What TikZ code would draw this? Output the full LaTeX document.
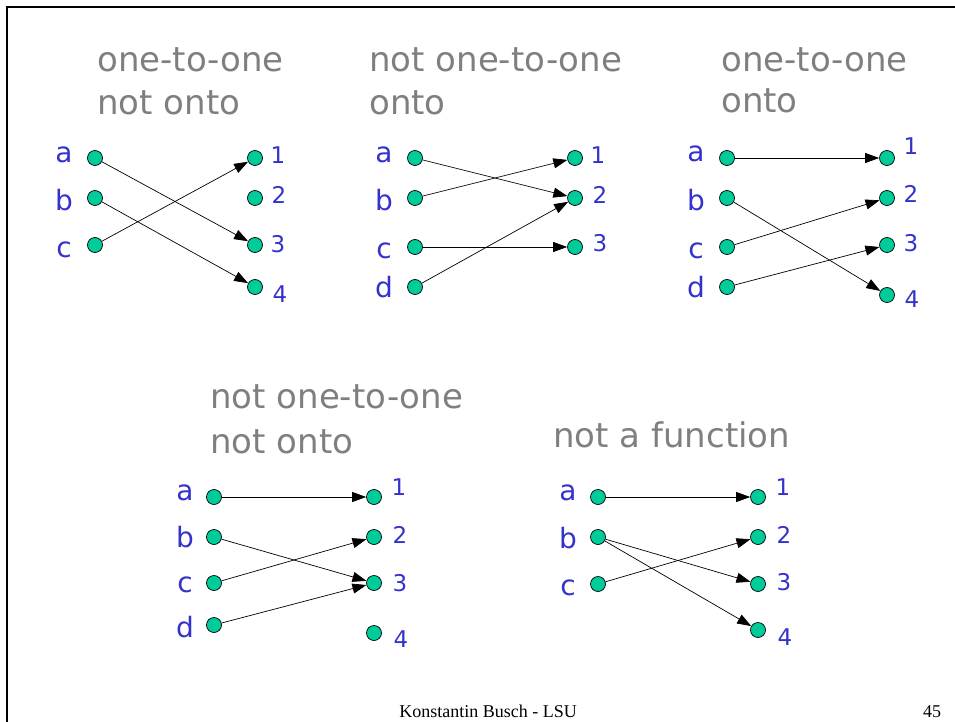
\documentclass[tikz,border=0pt]{standalone}
\usepackage{fontspec}
\setmainfont{Liberation Serif}
\newfontfamily\comic{DejaVu Sans}
\usetikzlibrary{arrows.meta}
\definecolor{dotgreen}{HTML}{00CC99}
\definecolor{lblblue}{HTML}{3333CC}
\definecolor{titlegrey}{HTML}{7F7F7F}
\tikzset{
  dot/.style={circle,draw=black,line width=0.7pt,fill=dotgreen,minimum size=15pt,inner sep=0pt},
  lbl/.style={anchor=base,text=lblblue,font=\comic\fontsize{23}{26}\selectfont,inner sep=0pt},
  let/.style={anchor=base,text=lblblue,font=\comic\fontsize{28}{30}\selectfont,inner sep=0pt},
  ttl/.style={anchor=base west,text=titlegrey,font=\comic\fontsize{34}{40}\selectfont,inner sep=0pt},
  foot/.style={anchor=base,font=\fontsize{18}{22}\selectfont,inner sep=0pt},
  arr/.style={-{Triangle[length=14pt,width=10pt]},line width=0.7pt,black}
}
\begin{document}
\begin{tikzpicture}[x=1pt,y=-1pt]
\useasboundingbox (0,0) rectangle (955,722);
\draw[line width=2pt] (7,722) -- (7,7) -- (955,7);
% panel 1
\node[ttl] (t1a) at (97,72) {one-to-one};
\node[ttl] (t1b) at (97,115) {not onto};
\node[dot] (p1a) at (95,158) {};
\node[dot] (p1b) at (95,198) {};
\node[dot] (p1c) at (95,245) {};
\node[dot] (p1r1) at (255,158) {};
\node[dot] (p1r2) at (255,198) {};
\node[dot] (p1r3) at (255,245) {};
\node[dot] (p1r4) at (255,287) {};
\node[let] (l1a) at (64,163) {a};
\node[let] (l1b) at (64,210) {b};
\node[let] (l1c) at (64,257) {c};
\node[lbl] (l1r1) at (278,164) {1};
\node[lbl] (l1r2) at (279,204) {2};
\node[lbl] (l1r3) at (278,252) {3};
\node[lbl] (l1r4) at (280,302) {4};
\draw[arr] (p1a) -- (p1r3);
\draw[arr] (p1b) -- (p1r4);
\draw[arr] (p1c) -- (p1r1);
% panel 2
\node[ttl] (t2a) at (369,72) {not one-to-one};
\node[ttl] (t2b) at (369,115) {onto};
\node[dot] (p2a) at (415,158) {};
\node[dot] (p2b) at (415,198) {};
\node[dot] (p2c) at (415,247) {};
\node[dot] (p2d) at (415,287) {};
\node[dot] (p2r1) at (575,158) {};
\node[dot] (p2r2) at (575,198) {};
\node[dot] (p2r3) at (575,247) {};
\node[let] (l2a) at (384,163) {a};
\node[let] (l2b) at (384,210) {b};
\node[let] (l2c) at (384,258) {c};
\node[let] (l2d) at (384,297) {d};
\node[lbl] (l2r1) at (598,164) {1};
\node[lbl] (l2r2) at (600,204) {2};
\node[lbl] (l2r3) at (600,251) {3};
\draw[arr] (p2a) -- (p2r2);
\draw[arr] (p2b) -- (p2r1);
\draw[arr] (p2c) -- (p2r3);
\draw[arr] (p2d) -- (p2r2);
% panel 3
\node[ttl] (t3a) at (721,72) {one-to-one};
\node[ttl] (t3b) at (721,113) {onto};
\node[dot] (p3a) at (727,158) {};
\node[dot] (p3b) at (727,198) {};
\node[dot] (p3c) at (727,247) {};
\node[dot] (p3d) at (727,287) {};
\node[dot] (p3r1) at (887,158) {};
\node[dot] (p3r2) at (887,198) {};
\node[dot] (p3r3) at (887,245) {};
\node[dot] (p3r4) at (887,295) {};
\node[let] (l3a) at (696,162) {a};
\node[let] (l3b) at (696,210) {b};
\node[let] (l3c) at (696,258) {c};
\node[let] (l3d) at (696,297) {d};
\node[lbl] (l3r1) at (911,155) {1};
\node[lbl] (l3r2) at (911,203) {2};
\node[lbl] (l3r3) at (911,251) {3};
\node[lbl] (l3r4) at (912,307) {4};
\draw[arr] (p3a) -- (p3r1);
\draw[arr] (p3b) -- (p3r4);
\draw[arr] (p3c) -- (p3r2);
\draw[arr] (p3d) -- (p3r3);
% panel 4
\node[ttl] (t4a) at (210,408) {not one-to-one};
\node[ttl] (t4b) at (210,453) {not onto};
\node[dot] (p4a) at (214,497) {};
\node[dot] (p4b) at (214,537) {};
\node[dot] (p4c) at (214,583) {};
\node[dot] (p4d) at (214,625) {};
\node[dot] (p4r1) at (374,497) {};
\node[dot] (p4r2) at (374,537) {};
\node[dot] (p4r3) at (374,583) {};
\node[dot] (p4r4) at (374,633) {};
\node[let] (l4a) at (185,500) {a};
\node[let] (l4b) at (185,547) {b};
\node[let] (l4c) at (185,592) {c};
\node[let] (l4d) at (185,637) {d};
\node[lbl] (l4r1) at (399,495) {1};
\node[lbl] (l4r2) at (400,543) {2};
\node[lbl] (l4r3) at (400,591) {3};
\node[lbl] (l4r4) at (401,647) {4};
\draw[arr] (p4a) -- (p4r1);
\draw[arr] (p4b) -- (p4r3);
\draw[arr] (p4c) -- (p4r2);
\draw[arr] (p4d) -- (p4r3);
% panel 5
\node[ttl] (t5a) at (553,447) {not a function};
\node[dot] (p5a) at (598,497) {};
\node[dot] (p5b) at (598,537) {};
\node[dot] (p5c) at (598,584) {};
\node[dot] (p5r1) at (758,497) {};
\node[dot] (p5r2) at (758,537) {};
\node[dot] (p5r3) at (758,584) {};
\node[dot] (p5r4) at (758,630) {};
\node[let] (l5a) at (568,500) {a};
\node[let] (l5b) at (568,548) {b};
\node[let] (l5c) at (568,595) {c};
\node[lbl] (l5r1) at (783,495) {1};
\node[lbl] (l5r2) at (784,543) {2};
\node[lbl] (l5r3) at (784,590) {3};
\node[lbl] (l5r4) at (785,645) {4};
\draw[arr] (p5a) -- (p5r1);
\draw[arr] (p5b) -- (p5r3);
\draw[arr] (p5b) -- (p5r4);
\draw[arr] (p5c) -- (p5r2);
% footer
\node[foot] (f1) at (488,717) {Konstantin Busch - LSU};
\node[foot] (f2) at (932,717) {45};
\end{tikzpicture}
\end{document}
